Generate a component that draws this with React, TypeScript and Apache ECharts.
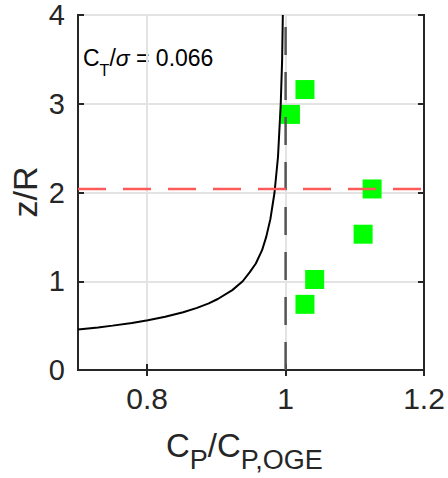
import React, { useEffect, useRef } from "react";
import * as echarts from "echarts";

// ---- data ----
const xTicks = [0.8, 1, 1.2];

// ground-effect curve (x = C_P/C_P,OGE, z = z/R)
const curveX = [0.7, 0.729, 0.75, 0.778, 0.801, 0.826, 0.852, 0.872, 0.889, 0.902, 0.923, 0.938, 0.948, 0.957, 0.966, 0.972, 0.978, 0.984, 0.989, 0.993, 0.995, 0.996];
const curveZ = [0.456, 0.48, 0.5, 0.53, 0.56, 0.6, 0.65, 0.7, 0.75, 0.8, 0.9, 1.0, 1.1, 1.2, 1.35, 1.5, 1.7, 2.0, 2.4, 3.0, 3.5, 4.0];

// measured points (green squares)
const measX = [1.007, 1.028, 1.125, 1.112, 1.042, 1.028];
const measZ = [2.88, 3.16, 2.04, 1.53, 1.02, 0.74];

const groundZ = 2.04; // red dashed line
const refX = 1; // gray dashed line

const FONT = "'Liberation Sans', Arial, Helvetica, sans-serif";
const INK = "#262626";

export default function App() {
  const ref = useRef<HTMLDivElement>(null);
  useEffect(() => {
    if (!ref.current) return;
    const chart = echarts.init(ref.current, null, { renderer: "svg" });
    const curve = curveX.map((x, i) => [x, curveZ[i]]);
    const meas = measX.map((x, i) => [x, measZ[i]]);
    const axisCommon = {
      type: "value" as const,
      axisLine: { show: true, lineStyle: { color: INK, width: 2 } },
      axisTick: { show: true, inside: true, length: 6, lineStyle: { color: INK, width: 2 } },
    };

    // axis-title layout (Liberation Sans = Arial metrics)
    const mainFs = 33;
    const subFs = 27;
    const tx0 = 166;
    const wC = 0.722 * mainFs;
    const wP = 0.667 * subFs;
    const wSlashC = (0.278 + 0.722) * mainFs;
    const mainY = 445;
    const subY = 460;

    const aFs = 23;
    const aSub = 16;
    const ax0 = 83;
    const aY = 58;
    const aSubY = 70;

    const t = (text: string, x: number, y: number, fs: number, fill = INK, extra: any = {}) => ({
      type: "text",
      x,
      y,
      style: { text, font: `${fs}px ${FONT}`, fill, align: "left", verticalAlign: "middle", ...extra },
    });

    chart.setOption({
      animation: false,
      backgroundColor: "#ffffff",
      textStyle: { fontFamily: FONT },
      grid: { left: 78, top: 15, width: 346, height: 355, show: true, borderColor: INK, borderWidth: 2 },
      xAxis: [
        {
          ...axisCommon,
          min: 0.7,
          max: 1.2,
          position: "bottom",
          axisTick: { ...axisCommon.axisTick, customValues: xTicks },
          axisLabel: { customValues: xTicks, fontSize: 30, color: INK, margin: 13, fontFamily: FONT, formatter: (v: number) => String(+v.toFixed(2)) },
          splitLine: { show: true, lineStyle: { color: "#e3e3e3", width: 2 } },
        },
        {
          ...axisCommon,
          min: 0.7,
          max: 1.2,
          position: "top",
          axisTick: { ...axisCommon.axisTick, customValues: xTicks },
          axisLabel: { show: false, customValues: xTicks },
          splitLine: { show: false },
        },
      ],
      yAxis: [
        {
          ...axisCommon,
          min: 0,
          max: 4,
          interval: 1,
          position: "left",
          axisLabel: { fontSize: 29, color: INK, margin: 13, fontFamily: FONT },
          splitLine: { show: true, lineStyle: { color: "#e3e3e3", width: 2 } },
        },
        {
          ...axisCommon,
          min: 0,
          max: 4,
          interval: 1,
          position: "right",
          axisLabel: { show: false },
          splitLine: { show: false },
        },
      ],
      series: [
        {
          type: "scatter",
          data: meas,
          symbol: "rect",
          symbolSize: 19,
          itemStyle: { color: "#00ff00", opacity: 1 },
          z: 2,
        },
        {
          type: "line",
          data: curve,
          smooth: false,
          showSymbol: false,
          lineStyle: { color: "#000000", width: 2 },
          z: 3,
        },
        {
          type: "line",
          data: [[refX, 0], [refX, 4]],
          showSymbol: false,
          lineStyle: { color: "#555555", width: 2.5, type: [28, 17] },
          z: 4,
        },
        {
          type: "line",
          data: [[0.7, groundZ], [1.2, groundZ]],
          showSymbol: false,
          lineStyle: { color: "#ff5a5a", width: 2.5, type: [28, 17] },
          z: 5,
        },
      ],
      graphic: [
        {
          type: "text",
          x: 25,
          y: 192,
          rotation: Math.PI / 2,
          style: { text: "z/R", font: `34px ${FONT}`, fill: INK, align: "center", verticalAlign: "middle" },
        },
        t("C", tx0, mainY, mainFs),
        t("P", tx0 + wC, subY, subFs),
        t("/C", tx0 + wC + wP, mainY, mainFs),
        t("P,OGE", tx0 + wC + wP + wSlashC, subY, subFs),
        t("C", ax0, aY, aFs, "#000"),
        t("T", ax0 + 0.722 * aFs, aSubY, aSub, "#000"),
        {
          type: "text",
          x: ax0 + 0.722 * aFs + 0.611 * aSub,
          y: aY,
          style: {
            text: "{m|/}{i|σ}{m| = 0.066}",
            align: "left",
            verticalAlign: "middle",
            fill: "#000",
            rich: {
              m: { fontSize: aFs, fontFamily: FONT, color: "#000" },
              i: { fontSize: aFs, fontFamily: FONT, fontStyle: "italic", color: "#000" },
            },
          },
        },
      ],
    });
    return () => chart.dispose();
  }, []);
  return <div ref={ref} style={{ position: "fixed", left: 0, top: 0, width: 448, height: 478 }} />;
}
